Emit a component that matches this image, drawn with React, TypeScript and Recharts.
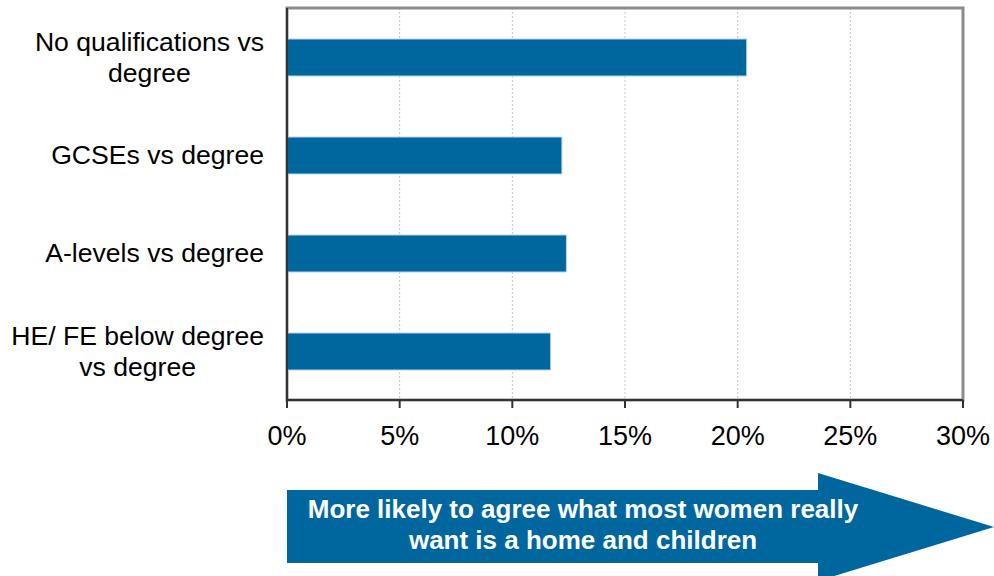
import React from 'react'
import { BarChart, Bar, XAxis, YAxis, CartesianGrid, ReferenceArea } from 'recharts'

const categories = [
  'No qualifications vs\ndegree',
  'GCSEs vs degree',
  'A-levels vs degree',
  'HE/ FE below degree\nvs degree',
]
const values = [20.4, 12.2, 12.4, 11.7]
const xTicks = [0, 5, 10, 15, 20, 25, 30]
const arrowLines = ['More likely to agree what most women really', 'want is a home and children']

const data = categories.map((name, i) => ({ name, value: values[i] }))

const FONT = '"Liberation Sans", Arial, sans-serif'
const LABEL_SIZE = 26.6

let ctx: CanvasRenderingContext2D | null = null
function measure(text: string) {
  if (!ctx) ctx = document.createElement('canvas').getContext('2d')
  if (!ctx) return text.length * LABEL_SIZE * 0.5
  ctx.font = `${LABEL_SIZE}px ${FONT}`
  return ctx.measureText(text).width
}

function CategoryTick({ x, y, payload }: any) {
  const lines = String(payload.value).split('\n')
  const maxW = Math.max(...lines.map(measure))
  const cx = x - maxW / 2
  return (
    <text textAnchor="middle" fill="#000" fontSize={LABEL_SIZE} fontFamily={FONT}>
      {lines.map((l, i) => (
        <tspan key={i} x={cx} y={y + 9 + (i - (lines.length - 1) / 2) * 31}>
          {l}
        </tspan>
      ))}
    </text>
  )
}

export default function App() {
  return (
    <div style={{ position: 'absolute', left: 0, top: 0, width: 994, height: 576, background: '#fff', overflow: 'hidden' }}>
      <BarChart
        width={994}
        height={576}
        data={data}
        layout="vertical"
        margin={{ top: 8, right: 31, bottom: 116, left: 0 }}
        barCategoryGap={30}
      >
        <CartesianGrid horizontal={false} stroke="#c4c4c4" strokeDasharray="2 2" />
        <ReferenceArea x1={0} x2={30} fill="none" stroke="#8c8c8c" strokeWidth={3} ifOverflow="visible" />
        <XAxis
          type="number"
          domain={[0, 30]}
          ticks={xTicks}
          tickFormatter={(v) => `${v}%`}
          axisLine={{ stroke: '#333', strokeWidth: 2 }}
          tickLine={{ stroke: '#333', strokeWidth: 2 }}
          tickSize={8}
          tickMargin={18}
          height={60}
          tick={{ fill: '#000', fontSize: 27, fontFamily: FONT }}
          interval={0}
        />
        <YAxis
          type="category"
          dataKey="name"
          width={287}
          axisLine={{ stroke: '#333', strokeWidth: 2 }}
          tickLine={false}
          tickSize={0}
          tickMargin={23}
          tick={<CategoryTick />}
          interval={0}
        />
        <Bar dataKey="value" fill="#00669e" stroke="#b9d3e6" strokeWidth={1} barSize={37} isAnimationActive={false} />
      </BarChart>
      <svg width={994} height={576} style={{ position: 'absolute', left: 0, top: 0 }}>
        <polygon points="287,490 818,490 818,473 994,527 818,581 818,563 287,563" fill="#00669e" />
        <text textAnchor="middle" fill="#fff" fontSize={26} fontWeight="bold" fontFamily={FONT}>
          {arrowLines.map((l, i) => (
            <tspan key={i} x={583} y={518 + i * 31}>
              {l}
            </tspan>
          ))}
        </text>
      </svg>
    </div>
  )
}
